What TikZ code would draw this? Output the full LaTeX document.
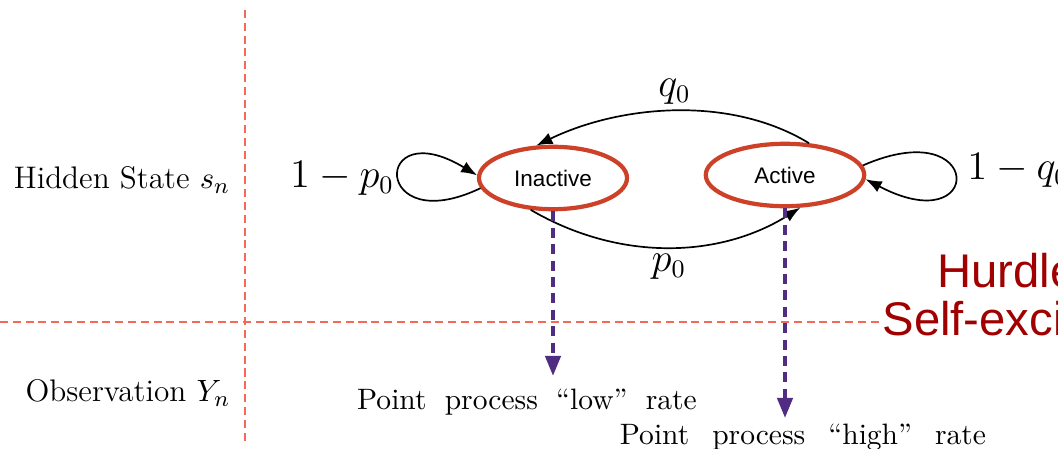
\documentclass[tikz,border=0pt]{standalone}
\usepackage{fontspec}
\usepackage{tikz}
\usetikzlibrary{arrows.meta,positioning,shapes.geometric}
\newfontfamily\helvfont{Liberation Sans}
\definecolor{statered}{RGB}{205,65,40}
\definecolor{obspurple}{RGB}{80,45,130}
\definecolor{splitred}{RGB}{245,105,90}
\definecolor{hurdlered}{RGB}{160,0,0}
\newcommand{\widesp}[1]{\spaceskip=#1\relax}
\tikzset{
  flow/.style={-{Latex[length=2mm,width=1.5mm]}, line width=0.6pt, draw=black},
  emit/.style={
    -{Triangle[length=2.5mm,width=1.9mm]},
    line width=1.35pt,
    draw=obspurple,
    dash pattern=on 1.25mm off 0.8mm
  },
  split/.style={draw=splitred, line width=0.7pt, dash pattern=on 1mm off 0.6mm},
  statenode/.style={
    ellipse,
    draw=statered,
    line width=1.5pt,
    fill=white,
    minimum height=0.78cm,
    inner sep=1pt,
    font=\helvfont\fontsize{8}{10}\selectfont
  },
  rowlabel/.style={font=\fontsize{11.1}{13}\selectfont, inner sep=1pt},
  problabel/.style={font=\fontsize{13.5}{16}\selectfont, inner sep=1pt},
  obslabel/.style={font=\fontsize{10.5}{12}\selectfont, inner sep=1pt},
  hurdletext/.style={font=\helvfont\fontsize{16.8}{20}\selectfont, text=hurdlered, inner sep=0pt}
}
\begin{document}
\begin{tikzpicture}[x=0.0125cm, y=-0.0125cm]
  \useasboundingbox (0,0) rectangle (1058,449);
  \fill[white] (0,0) rectangle (1058,449);

  % dividers
  \coordinate (divtop) at (245,10);
  \coordinate (divbot) at (245,445);
  \coordinate (divleft) at (0,322);

  % row labels
  \node[rowlabel] (hidden) at (122,180) {Hidden State $s_n$};
  \node[rowlabel] (observ) at (128,393) {Observation $Y_n$};

  % hidden states
  \node[statenode, minimum width=1.85cm] (inactive) at (553,178) {Inactive};
  \node[statenode, minimum width=1.98cm] (active) at (785,175) {Active};

  % observations
  \node[obslabel] (lowrate) at (527,402) {\widesp{0.62em}Point process ``low'' rate};
  \node[obslabel] (highrate) at (803,437) {\widesp{0.78em}Point process ``high'' rate};

  \node[hurdletext, anchor=base west] (hurdle) at (937,287) {Hurdle};
  \node[hurdletext, anchor=base west] (selfexc) at (882,335) {Self-excit};

  \draw[split] (divtop) -- (divbot);
  \draw[split] (divleft) -- (divleft -| selfexc.west);

  % transitions
  \draw[flow] (active.53) .. controls (730,95) and (620,105) .. (inactive.117)
    node[problabel, pos=0.5, above=1pt] (qlab) {$q_0$};
  \draw[flow] (inactive.235) .. controls (620,262) and (720,258) .. (active.295)
    node[problabel, pos=0.5, below=1pt] (plab) {$p_0$};
  \draw[flow] (inactive.188) .. controls (372,240) and (372,112) .. (inactive.178);
  \draw[flow] (active.7) .. controls (985,112) and (985,242) .. (active.357);
  \node[problabel] (stayin) at (342,178) {$1-p_0$};
  \node[problabel, anchor=west] (stayact) at (964,170) {$1-q_0$};

  % emissions
  \draw[emit, shorten >=1.2mm] (inactive.south) -- (inactive.south |- lowrate.north);
  \draw[emit, shorten >=0.3mm] (active.south) -- (active.south |- highrate.north);

\end{tikzpicture}
\end{document}
